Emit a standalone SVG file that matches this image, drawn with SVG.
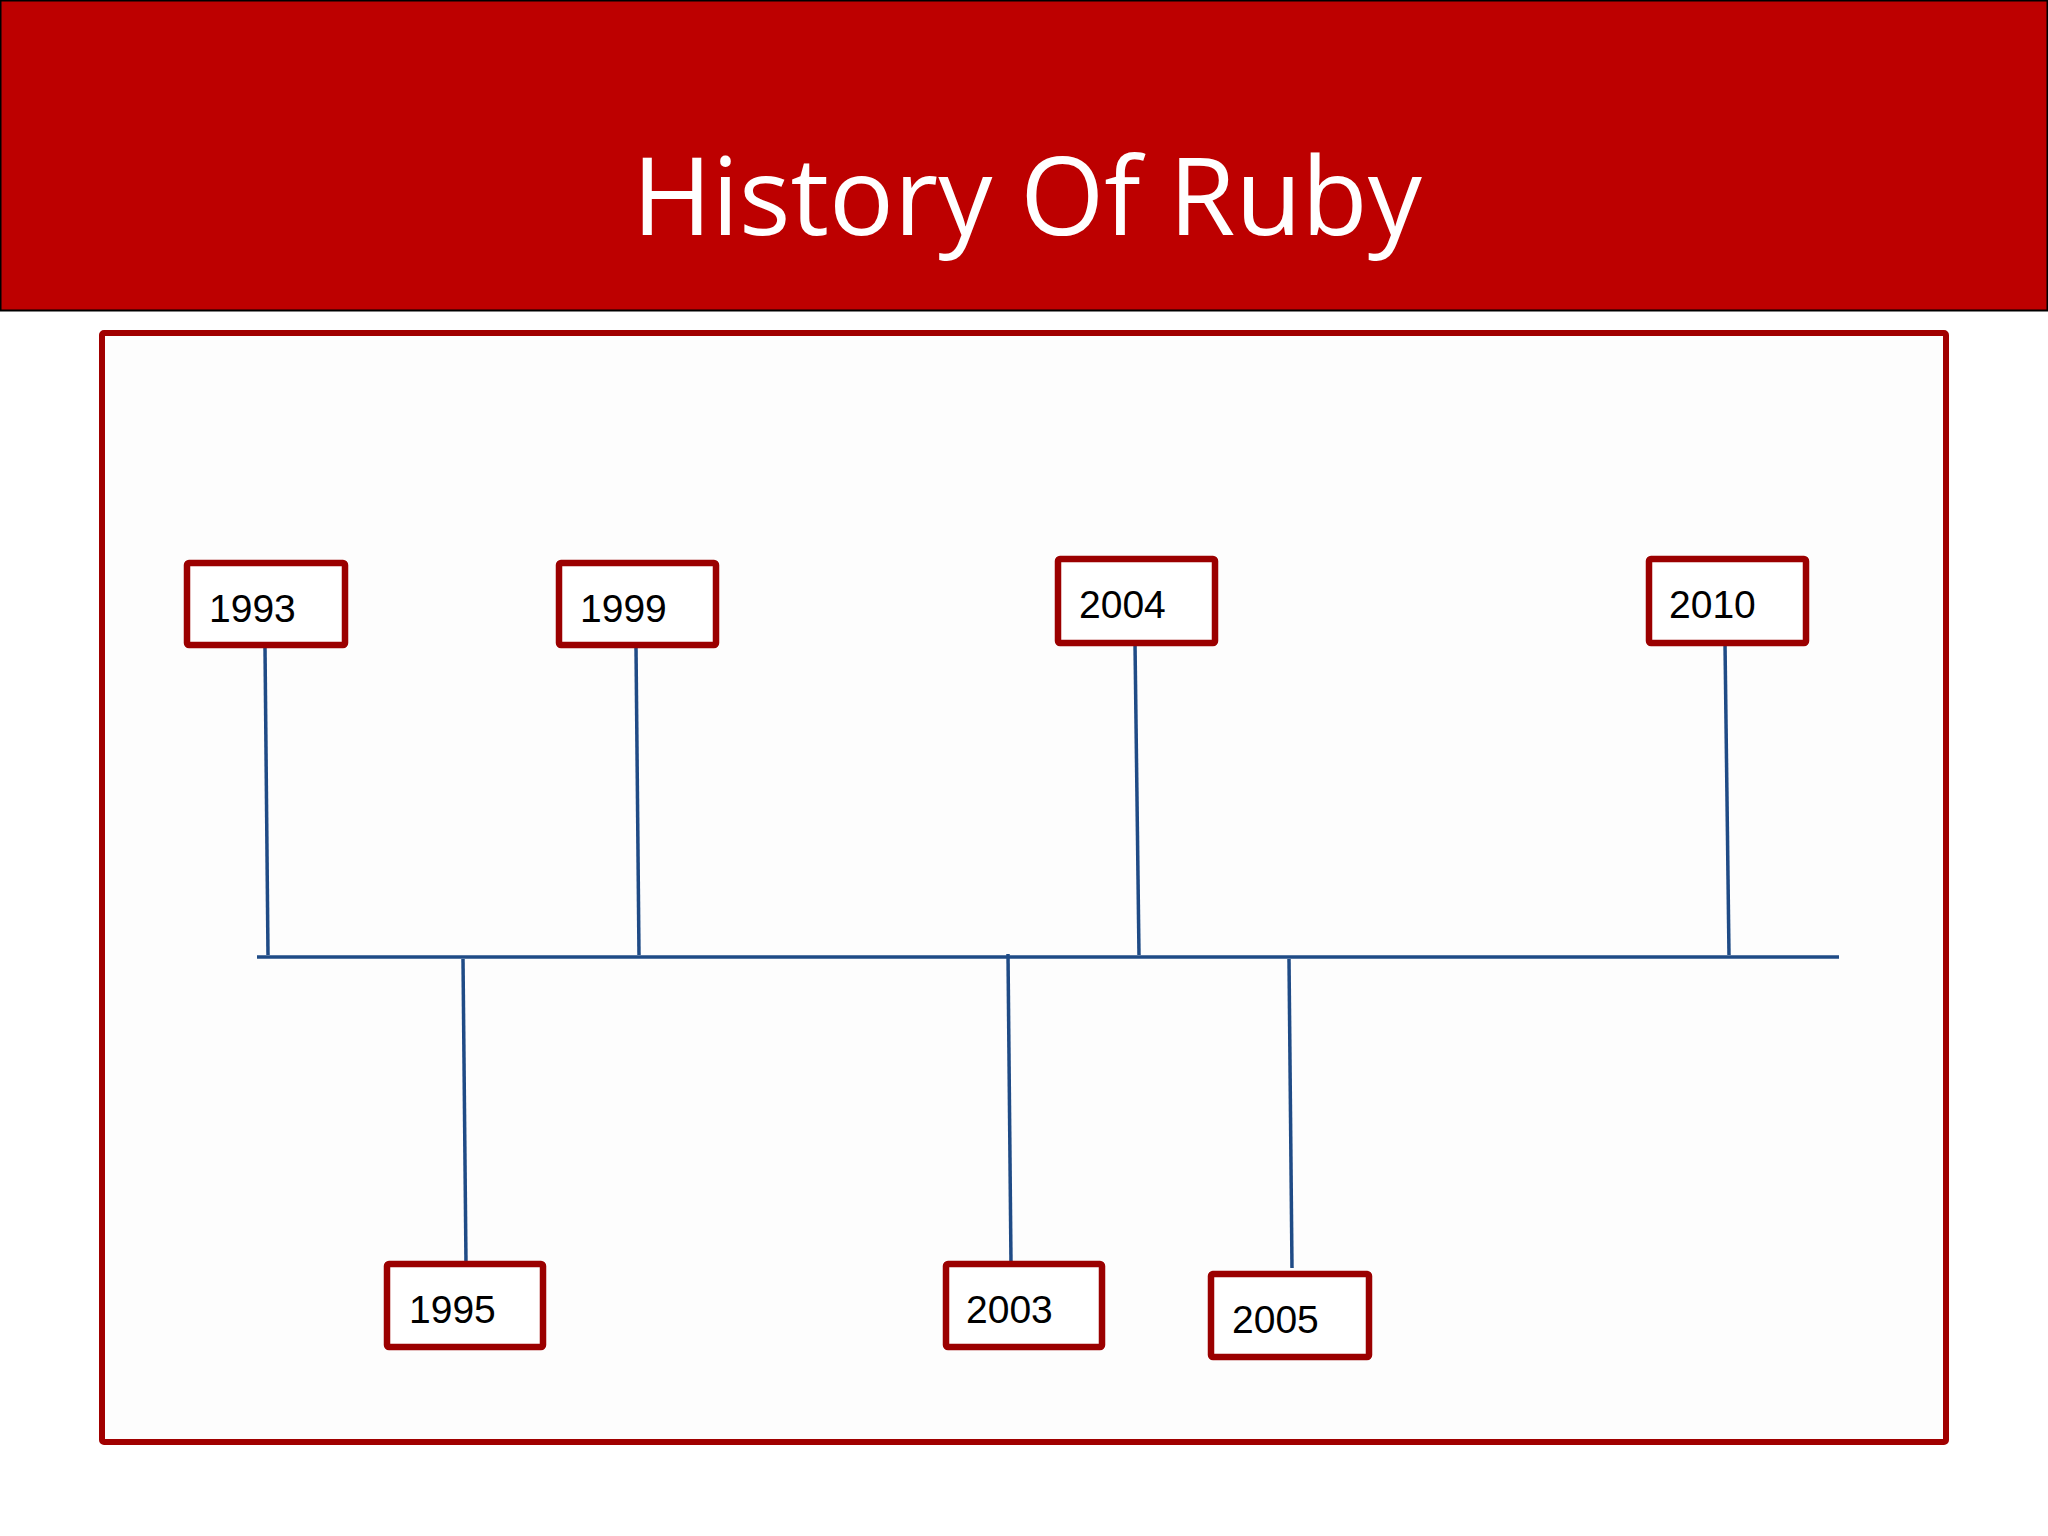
<svg xmlns="http://www.w3.org/2000/svg" width="2048" height="1536" viewBox="0 0 2048 1536">
<style>
.box{fill:#ffffff;stroke:#9b0000;stroke-width:6.5;}
.lbl{font-family:"Liberation Sans",Arial,sans-serif;font-size:39px;fill:#000000;}
.conn{stroke:#1f4b86;stroke-width:3.5;fill:none;}
</style>
<rect x="0" y="0" width="2048" height="2048" fill="#ffffff"/>
<g id="header">
<rect x="0.5" y="0.5" width="2047" height="310" fill="#bd0000" stroke="#000000" stroke-width="2"/>
<text x="1027" y="235" text-anchor="middle" font-family="'Open Sans',sans-serif" font-size="108" fill="#ffffff">History Of Ruby</text>
</g>
<g id="frame">
<rect x="102" y="333" width="1844" height="1109" rx="2" fill="#fdfdfd" stroke="#a10000" stroke-width="6"/>
</g>
<g id="connectors">
<line class="conn" x1="257" y1="957" x2="1839" y2="957" stroke-width="4"/>
<line class="conn" x1="265" y1="647" x2="268" y2="955"/>
<line class="conn" x1="636" y1="647" x2="639" y2="955"/>
<line class="conn" x1="1135" y1="643" x2="1139" y2="955"/>
<line class="conn" x1="1725" y1="643" x2="1729" y2="955"/>
<line class="conn" x1="463" y1="959" x2="466" y2="1263"/>
<line class="conn" x1="1008" y1="954" x2="1011" y2="1263"/>
<line class="conn" x1="1289" y1="959" x2="1292" y2="1268"/>
</g>
<g id="n1993"><rect class="box" x="187" y="563" width="158" height="82" rx="2"/><text class="lbl" x="209" y="622">1993</text></g>
<g id="n1999"><rect class="box" x="559" y="563" width="157" height="82" rx="2"/><text class="lbl" x="580" y="622">1999</text></g>
<g id="n2004"><rect class="box" x="1058" y="559" width="157" height="84" rx="2"/><text class="lbl" x="1079" y="618">2004</text></g>
<g id="n2010"><rect class="box" x="1649" y="559" width="157" height="84" rx="2"/><text class="lbl" x="1669" y="618">2010</text></g>
<g id="n1995"><rect class="box" x="387" y="1264" width="156" height="83" rx="2"/><text class="lbl" x="409" y="1323">1995</text></g>
<g id="n2003"><rect class="box" x="946" y="1264" width="156" height="83" rx="2"/><text class="lbl" x="966" y="1323">2003</text></g>
<g id="n2005"><rect class="box" x="1211" y="1274" width="158" height="83" rx="2"/><text class="lbl" x="1232" y="1333">2005</text></g>
</svg>
